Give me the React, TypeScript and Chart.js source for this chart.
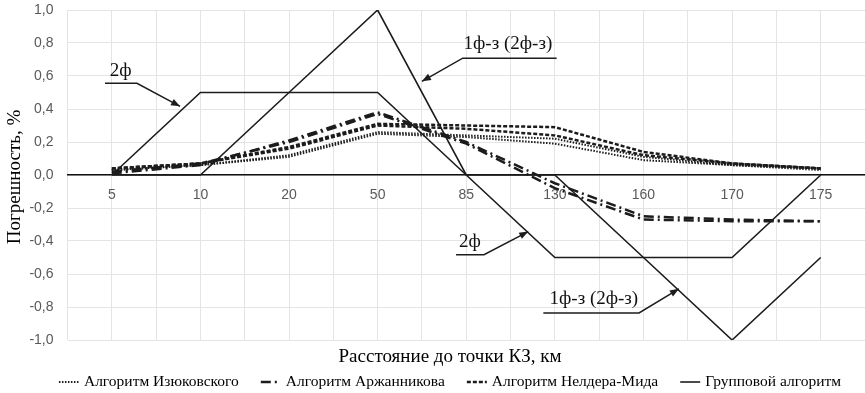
import React, { useEffect, useRef } from "react";
import { Chart, registerables } from "chart.js";

Chart.register(...registerables);

const categories = ["5", "10", "20", "50", "85", "130", "160", "170", "175"];

const izyukovskyA = [0.03, 0.06, 0.11, 0.25, 0.23, 0.19, 0.09, 0.06, 0.03];
const izyukovskyB = [0.03, 0.06, 0.12, 0.26, 0.24, 0.22, 0.11, 0.06, 0.04];
const arzhannikovA = [0.01, 0.06, 0.21, 0.38, 0.2, -0.05, -0.25, -0.27, -0.28];
const arzhannikovB = [0.02, 0.07, 0.2, 0.37, 0.19, -0.08, -0.27, -0.28, -0.28];
const nelderMeadA = [0.04, 0.07, 0.17, 0.31, 0.3, 0.29, 0.14, 0.07, 0.04];
const nelderMeadB = [0.04, 0.07, 0.16, 0.3, 0.28, 0.24, 0.12, 0.07, 0.04];
const group2f = [0, 0.5, 0.5, 0.5, 0, -0.5, -0.5, -0.5, 0];
const group1f = [0, 0, 0.5, 1.0, 0, 0, -0.5, -1.0, -0.5];

const yTicks = [-1, -0.8, -0.6, -0.4, -0.2, 0, 0.2, 0.4, 0.6, 0.8, 1];

const legendLabels = [
  "Алгоритм Изюковского",
  "Алгоритм Аржанникова",
  "Алгоритм Нелдера-Мида",
  "Групповой алгоритм",
];
const xTitle = "Расстояние до точки КЗ, км";
const yTitle = "Погрешность, %";

// annotation callouts in data space (x = category index, y = value)
const callouts = [
  { text: "2ф", tx: 0.1, ty: 0.63, x1: -0.077, x2: 0.284, ly: 0.556, ax: 0.77, ay: 0.416 },
  { text: "1ф-з (2ф-з)", tx: 4.47, ty: 0.793, x1: 5.02, x2: 3.96, ly: 0.708, ax: 3.5, ay: 0.568 },
  { text: "2ф", tx: 4.04, ty: -0.404, x1: 3.885, x2: 4.2, ly: -0.483, ax: 4.7, ay: -0.343 },
  { text: "1ф-з (2ф-з)", tx: 5.44, ty: -0.751, x1: 4.87, x2: 5.95, ly: -0.836, ax: 6.4, ay: -0.69 },
];

const LINE = "#1c1c1c";
const SERIF = "'Liberation Serif', 'DejaVu Serif', serif";
const SANS = "'Liberation Sans', 'Open Sans', sans-serif";

const decorPlugin = {
  id: "decor",
  afterDatasetsDraw(chart: any) {
    const { ctx, scales, chartArea } = chart;
    const xs = scales.x;
    const ys = scales.y;
    const px = (i: number) => {
      const p0 = xs.getPixelForValue(0);
      const p1 = xs.getPixelForValue(1);
      return p0 + (p1 - p0) * i;
    };
    const py = (v: number) => ys.getPixelForValue(v);
    ctx.save();
    ctx.strokeStyle = LINE;
    ctx.fillStyle = LINE;
    ctx.lineWidth = 1.5;
    ctx.setLineDash([]);
    for (const c of callouts) {
      const xA = px(c.x1);
      const xB = px(c.x2);
      const yL = py(c.ly);
      const tipX = px(c.ax);
      const tipY = py(c.ay);
      ctx.beginPath();
      ctx.moveTo(xA, yL);
      ctx.lineTo(xB, yL);
      ctx.lineTo(tipX, tipY);
      ctx.stroke();
      const ang = Math.atan2(tipY - yL, tipX - xB);
      const len = 9;
      const w = 3.5;
      ctx.beginPath();
      ctx.moveTo(tipX, tipY);
      ctx.lineTo(tipX - len * Math.cos(ang) + w * Math.sin(ang), tipY - len * Math.sin(ang) - w * Math.cos(ang));
      ctx.lineTo(tipX - len * Math.cos(ang) - w * Math.sin(ang), tipY - len * Math.sin(ang) + w * Math.cos(ang));
      ctx.closePath();
      ctx.fill();
      ctx.font = `19px ${SERIF}`;
      ctx.textAlign = "center";
      ctx.textBaseline = "middle";
      ctx.fillStyle = "#111";
      ctx.fillText(c.text, px(c.tx), py(c.ty));
      ctx.fillStyle = LINE;
    }

    // axis titles
    ctx.fillStyle = "#000";
    ctx.font = `19px ${SERIF}`;
    ctx.textAlign = "center";
    ctx.textBaseline = "middle";
    ctx.fillText(xTitle, 450, chartArea.bottom + 17);
    ctx.save();
    ctx.translate(15, (chartArea.top + chartArea.bottom) / 2 + 2);
    ctx.rotate(-Math.PI / 2);
    ctx.fillText(yTitle, 0, 0);
    ctx.restore();

    // legend
    ctx.font = `15.5px ${SERIF}`;
    const items = chart.data.datasets.slice(0, 4);
    const sample = 20;
    const gapText = 5;
    const gapItem = 22;
    const widths = items.map((d: any) => ctx.measureText(d.label).width);
    const total = widths.reduce((a: number, b: number) => a + b, 0) + items.length * (sample + gapText) + (items.length - 1) * gapItem;
    let x = 450 - total / 2;
    const ly = chartArea.bottom + 42;
    items.forEach((d: any, i: number) => {
      ctx.save();
      ctx.strokeStyle = LINE;
      ctx.lineWidth = d.borderWidth;
      ctx.setLineDash(d.borderDash || []);
      ctx.beginPath();
      ctx.moveTo(x, ly);
      ctx.lineTo(x + sample, ly);
      ctx.stroke();
      ctx.restore();
      ctx.fillStyle = "#000";
      ctx.textAlign = "left";
      ctx.fillText(d.label, x + sample + gapText, ly);
      x += sample + gapText + widths[i] + gapItem;
    });
    ctx.restore();
  },
};

export default function App() {
  const ref = useRef<HTMLCanvasElement>(null);
  useEffect(() => {
    document.body.style.margin = "0";
    const canvas = ref.current!;
    const mk = (label: string, data: number[], dash: number[], width: number) => ({
      label,
      data,
      borderColor: LINE,
      backgroundColor: LINE,
      borderWidth: width,
      borderDash: dash,
      pointRadius: 0,
      pointHoverRadius: 0,
      tension: 0,
      fill: false,
    });
    const datasets: any[] = [
      mk(legendLabels[0], izyukovskyA, [1.5, 1.5], 2),
      mk(legendLabels[1], arzhannikovA, [10, 4, 2, 4], 2.5),
      mk(legendLabels[2], nelderMeadA, [4, 2], 2.5),
      mk(legendLabels[3], group2f, [], 1.6),
      mk(legendLabels[0], izyukovskyB, [1.5, 1.5], 2),
      mk(legendLabels[1], arzhannikovB, [10, 4, 2, 4], 2.5),
      mk(legendLabels[2], nelderMeadB, [4, 2], 2.5),
      mk(legendLabels[3], group1f, [], 1.6),
    ];
    const chart = new Chart(canvas, {
      type: "line",
      data: { labels: categories, datasets },
      plugins: [decorPlugin],
      options: {
        animation: false,
        responsive: false,
        maintainAspectRatio: false,
        layout: { padding: { top: 1, right: 0, left: 0, bottom: 53 } },
        plugins: {
          tooltip: { enabled: false },
          legend: { display: false },
        },
        scales: {
          xb: {
            type: "category",
            position: "bottom",
            labels: categories,
            offset: true,
            grid: { offset: true, color: "#e4e4e4", drawTicks: false },
            border: { display: false },
            ticks: { display: false },
            afterFit: (s: any) => {
              s.height = 0;
            },
          },
          x: {
            type: "category",
            position: { y: 0 } as any,
            offset: true,
            grid: { offset: false, color: "#e4e4e4", tickColor: "rgba(0,0,0,0)", tickLength: 8 },
            border: { display: true, color: "#111", width: 1.4 },
            ticks: { color: "#595959", font: { family: SANS, size: 14 }, padding: 4, maxRotation: 0, autoSkip: false },
            afterFit: (s: any) => {
              s.height = 0;
            },
          },
          y: {
            type: "linear",
            min: -1,
            max: 1,
            afterBuildTicks: (s: any) => {
              s.ticks = yTicks.map((v) => ({ value: v }));
            },
            grid: { color: "#e4e4e4", drawTicks: false },
            border: { display: false },
            ticks: {
              color: "#595959",
              font: { family: SANS, size: 14 },
              padding: 14,
              callback: (v: any) => Number(v).toFixed(1).replace(".", ","),
            },
            afterFit: (s: any) => {
              s.width = 67.5;
              s.paddingTop = 10;
              s.paddingBottom = 10;
            },
          },
        },
      } as any,
    });
    return () => chart.destroy();
  }, []);
  return (
    <div style={{ width: 865, height: 393 }}>
      <canvas ref={ref} width={865} height={393} />
    </div>
  );
}
